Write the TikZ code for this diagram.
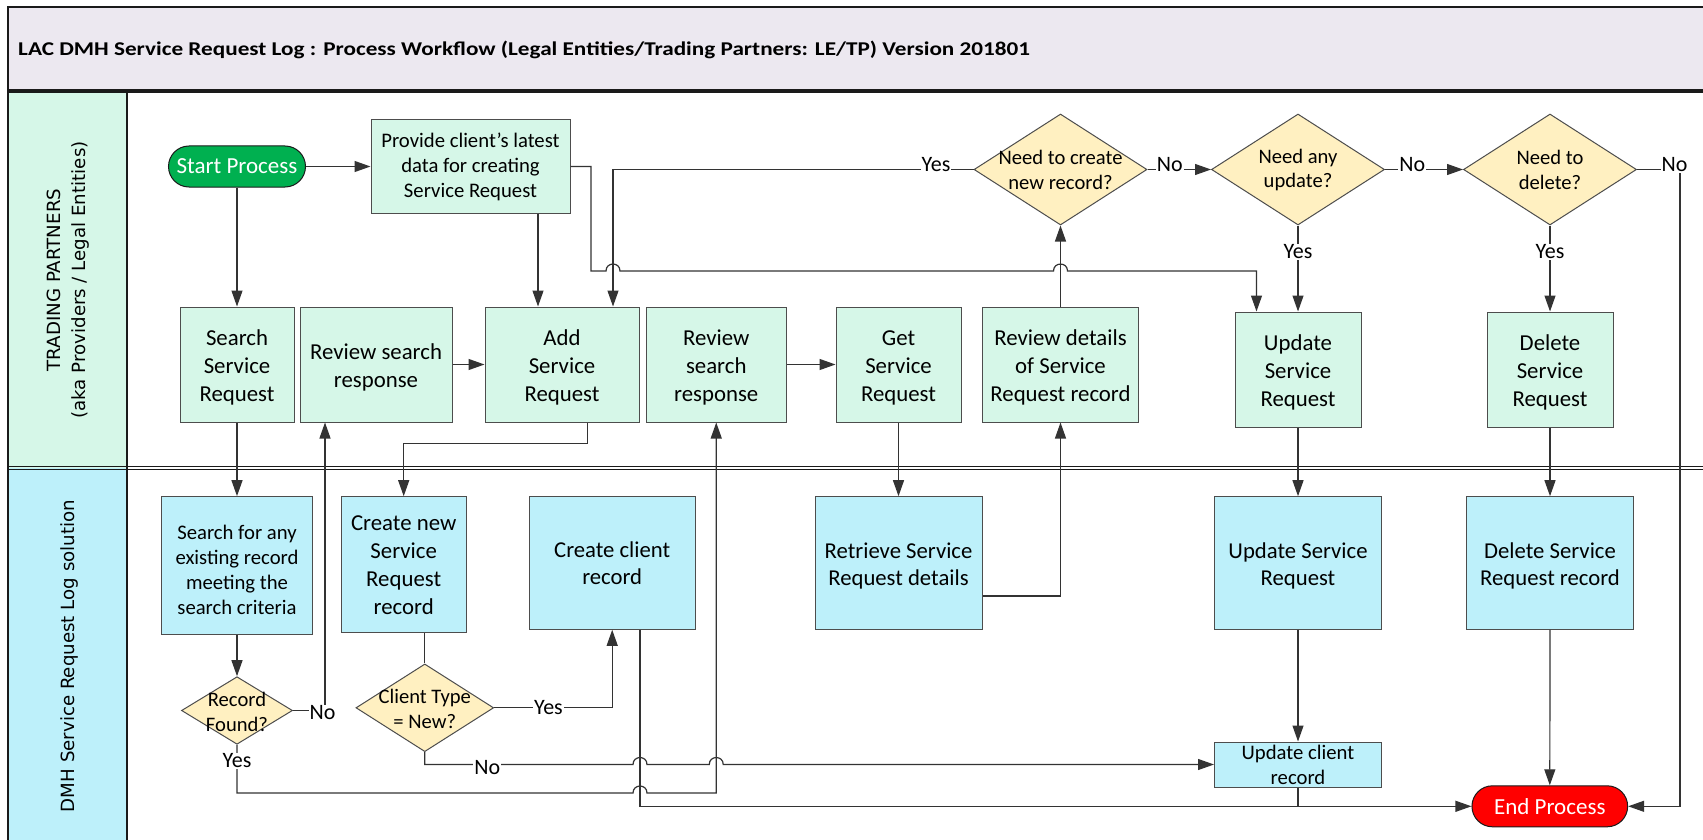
\documentclass[tikz,border=0pt]{standalone}
\usepackage{fontspec}
\usepackage{graphicx}
\setmainfont{Carlito}
\newfontfamily\lanefont{DejaVu Sans}
\usetikzlibrary{arrows.meta,shapes.geometric}
\definecolor{titlebg}{HTML}{ECE8F0}
\definecolor{tpfill}{HTML}{D6F7E8}
\definecolor{dmhfill}{HTML}{BDF0FA}
\definecolor{decfill}{HTML}{FFF0C1}
\definecolor{startgreen}{HTML}{00B050}
\definecolor{endred}{HTML}{FF0000}
\definecolor{boxline}{HTML}{4D4D4D}
\definecolor{lineclr}{HTML}{333333}
\definecolor{frame}{HTML}{1A1A1A}
\newcommand{\fsBig}{\fontsize{22.8pt}{28pt}\selectfont}
\newcommand{\fsMid}{\fontsize{22.7pt}{26.7pt}\selectfont}
\newcommand{\fsSmall}{\fontsize{20.7pt}{25pt}\selectfont}
\newcommand{\fsDec}{\fontsize{20.6pt}{24.5pt}\selectfont}
\newcommand{\fsLbl}{\fontsize{22pt}{24pt}\selectfont}
\newcommand{\fsTerm}{\fontsize{23pt}{26pt}\selectfont}
\newcommand{\fsTitle}{\bfseries\fontsize{19.5pt}{22pt}\selectfont}
\newcommand{\fsLane}{\lanefont\fontsize{18.2pt}{25pt}\selectfont}
\newcommand{\lw}{\rule{0pt}{22pt}}
\begin{document}
\begin{tikzpicture}[x=1pt,y=-1pt,
  box/.style={draw=boxline, line width=1pt, align=center, inner sep=0pt},
  tpbox/.style={box, fill=tpfill, font=\fsBig},
  dmhbox/.style={box, fill=dmhfill, font=\fsMid},
  dec/.style={diamond, draw=boxline, fill=decfill, line width=1pt, inner sep=0pt},
  dtext/.style={font=\fsDec, align=center, inner sep=0pt},
  term/.style={draw=frame, line width=1pt, rounded corners=20.5pt, text=white, font=\fsTerm, minimum height=41pt, inner sep=0pt},
  conn/.style={draw=lineclr, line width=1.2pt},
  arr/.style={conn, -{Triangle[length=16pt,width=11pt]}},
  lbl/.style={fill=white, inner sep=1pt, font=\fsLbl},
  lane/.style={font=\fsLane, align=center, inner sep=0pt}
]
\useasboundingbox (0,0) rectangle (1703,840);
\clip (0,0) rectangle (1703,840);
\fill[white] (0,0) rectangle (1703,840);
% title band
\filldraw[fill=titlebg, draw=frame, line width=1.8pt] (8.3,7) rectangle (1720,91);
\node[anchor=base west, font=\fsTitle, inner sep=0pt] (title) at (18,56)
  {\resizebox{1012pt}{\height}{LAC DMH Service Request Log : Process Workflow (Legal Entities/Trading Partners: LE/TP) Version 201801}};
% lane headers
\fill[tpfill] (8.3,92.7) rectangle (127,468);
\fill[dmhfill] (8.3,468) rectangle (127,850);
\draw[frame, line width=1.2pt] (8.3,89.3) -- (1720,89.3);
\draw[frame, line width=1.2pt] (8.3,92.7) -- (1720,92.7);
\draw[frame, line width=1.2pt] (8.3,466.7) -- (1720,466.7);
\draw[frame, line width=1.2pt] (8.3,469.3) -- (1720,469.3);
\draw[frame, line width=1.8pt] (8.3,7) -- (8.3,850);
\draw[frame, line width=1.8pt] (127,91) -- (127,850);
\node[lane, rotate=90] (lane1) at (68,280) {TRADING PARTNERS\\(aka Providers / Legal Entities)};
\node[lane, rotate=90] (lane2) at (69,656) {DMH Service Request Log solution};

% lane 1 nodes
\node[term, fill=startgreen, minimum width=137pt] (start) at (237,166.5) {Start Process};
\node[tpbox, font=\fsSmall, minimum width=199pt, minimum height=93pt] (provide) at (470.5,166.5) {Provide client’s latest\\data for creating\\Service Request};
\node[tpbox, minimum width=114pt, minimum height=115pt] (search) at (237,364.5) {\lw Search\\Service\\Request};
\node[tpbox, minimum width=152pt, minimum height=115pt] (review1) at (376,364.5) {\lw Review search\\response};
\node[tpbox, minimum width=154pt, minimum height=115pt] (add) at (562,364.5) {\lw Add\\Service\\Request};
\node[tpbox, minimum width=140.5pt, minimum height=115pt] (review2) at (716.25,364.5) {\lw Review\\search\\response};
\node[tpbox, minimum width=125pt, minimum height=115pt] (get) at (898.5,364.5) {\lw Get\\Service\\Request};
\node[tpbox, minimum width=156.6pt, minimum height=115pt] (revdet) at (1060.5,364.5) {\lw Review details\\of Service\\Request record};
\node[tpbox, minimum width=126pt, minimum height=115pt] (upd1) at (1298,369.5) {\lw Update\\Service\\Request};
\node[tpbox, minimum width=126pt, minimum height=115pt] (del1) at (1550,369.5) {\lw Delete\\Service\\Request};
\node[dec, minimum width=173pt, minimum height=111pt] (dcreate) at (1060.5,169.5) {};
\node[dtext] (tcreate) at (1060.5,170) {Need to create\\new record?};
\node[dec, minimum width=173pt, minimum height=111pt] (dupdate) at (1298,169.5) {};
\node[dtext] (tupdate) at (1298,170) {Need any\\update?};
\node[dec, minimum width=173pt, minimum height=111pt] (ddelete) at (1550,169.5) {};
\node[dtext] (tdelete) at (1550,170) {Need to\\delete?};

% lane 2 nodes
\node[dmhbox, font=\fsSmall, minimum width=151pt, minimum height=138.3pt] (searchfor) at (237,565.8) {\lw Search for any\\existing record\\meeting the\\search criteria};
\node[dmhbox, font=\fsBig, minimum width=124.6pt, minimum height=136pt] (createnew) at (403.7,564.7) {Create new\\Service\\Request\\record};
\node[dmhbox, minimum width=166.4pt, minimum height=132.6pt] (createclient) at (612.2,563) {Create client\\record};
\node[dmhbox, minimum width=167pt, minimum height=132.6pt] (retrieve) at (898.5,563) {\lw Retrieve Service\\Request details};
\node[dmhbox, minimum width=167pt, minimum height=132.6pt] (upd2) at (1298,563) {\lw Update Service\\Request};
\node[dmhbox, minimum width=167pt, minimum height=132.6pt] (del2) at (1550,563) {\lw Delete Service\\Request record};
\node[dmhbox, font=\fsSmall, minimum width=167pt, minimum height=45pt] (updclient) at (1298,764.5) {Update client\\record};
\node[term, fill=endred, minimum width=155.7pt] (end) at (1549.8,806.3) {End Process};
\node[dec, minimum width=111pt, minimum height=67.6pt] (drecord) at (237,710.5) {};
\node[dtext] (trecord) at (237,712) {Record\\Found?};
\node[dec, minimum width=137.7pt, minimum height=87.7pt] (dclient) at (424.8,707.8) {};
\node[dtext] (tclient) at (424.8,709) {Client Type\\= New?};

% connectors lane 1
\draw[arr] (start.east) -- (provide.west);
\draw[arr] (start.south) -- (search.north);
\draw[arr] ([xshift=67.5pt]provide.south) -- ([xshift=-24pt]add.north);
\draw[arr] (review1.east) -- (add.west);
\draw[arr] (review2.east) -- (get.west);
\draw[arr] (provide.east) -- (591,166.5) -- (591,271) -- (606,271)
  .. controls (606,261.7) and (620,261.7) .. (620,271) -- (1053.5,271)
  .. controls (1053.5,261.7) and (1067.5,261.7) .. (1067.5,271) -- (1256.5,271)
  -- ([xshift=-41.5pt]upd1.north);
\draw[arr] (dcreate.west) -- node[lbl, pos=0.104, yshift=5pt] {Yes} (613,169.5) -- ([xshift=51pt]add.north);
\draw[arr] (revdet.north) -- (dcreate.south);
\draw[arr] (dcreate.east) -- node[lbl, pos=0.35, yshift=4.5pt] {No} (dupdate.west);
\draw[arr] (dupdate.east) -- node[lbl, pos=0.35, yshift=4.5pt] {No} (ddelete.west);
\draw[arr] (ddelete.east) -| node[lbl, pos=0.5, xshift=-5.5pt, yshift=4.5pt] {No} (1680,806.3) -- (end.east);
\draw[arr] (dupdate.south) -- node[lbl, pos=0.305] {Yes} (upd1.north);
\draw[arr] (ddelete.south) -- node[lbl, pos=0.305] {Yes} (del1.north);

% connectors between lanes
\draw[arr] (search.south) -- (searchfor.north);
\draw[arr] ([xshift=25.5pt]add.south) -- ++(0,21) -| (createnew.north);
\draw[arr] (get.south) -- (retrieve.north);
\draw[arr] ([yshift=-33pt]retrieve.east) -| (revdet.south);
\draw[arr] (upd1.south) -- (upd2.north);
\draw[arr] (del1.south) -- (del2.north);

% lane 2 connectors
\draw[arr] (searchfor.south) -- (drecord.north);
\draw[arr] (drecord.east) -| node[lbl, pos=0.5, xshift=-2.5pt, yshift=-2.5pt] {No} ([xshift=-51pt]review1.south);
\draw[arr] (drecord.south) -- node[lbl, pos=0.33] {Yes} (237,793) -- (633,793)
  .. controls (633,783.7) and (647,783.7) .. (647,793) -- (716.25,793) -- (review2.south);
\draw[conn] ([xshift=21.1pt]createnew.south) -- (dclient.north);
\draw[arr] (dclient.east) -| node[lbl, pos=0.23] {Yes} (createclient.south);
\draw[arr] (dclient.south) -- (424.8,764.5) -- node[lbl, pos=0.3, yshift=-3pt] {No} (633,764.5)
  .. controls (633,755.2) and (647,755.2) .. (647,764.5) -- (709.25,764.5)
  .. controls (709.25,755.2) and (723.25,755.2) .. (723.25,764.5) -- (updclient.west);
\draw[arr] ([xshift=27.8pt]createclient.south) -- (640,806.3) -- (end.west);
\draw[conn] (updclient.south) -- (updclient.south |- end.west);
\draw[arr] (upd2.south) -- (updclient.north);
\draw[arr] (del2.south) -- (end.north);
\end{tikzpicture}
\end{document}
